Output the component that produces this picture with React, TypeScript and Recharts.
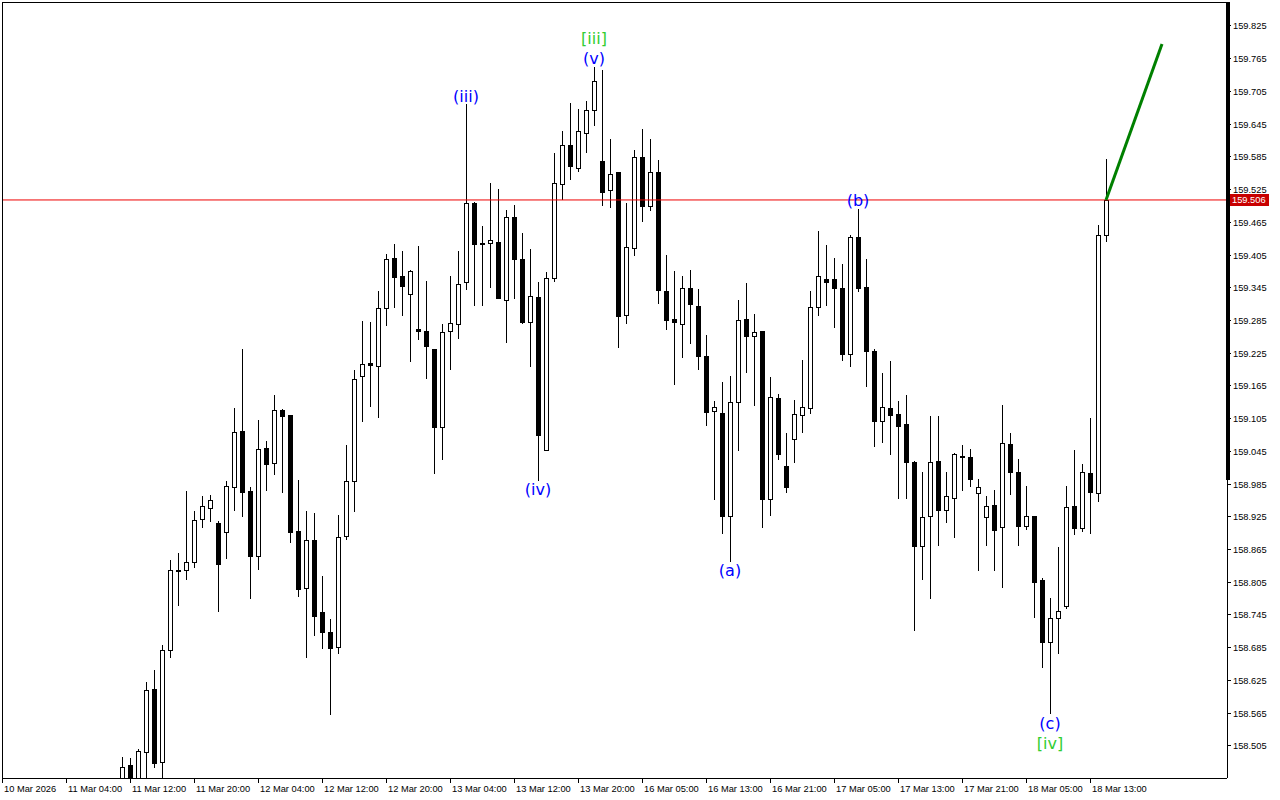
import React from 'react';
import {
  ComposedChart,
  Bar,
  Line,
  XAxis,
  YAxis,
  ReferenceLine,
  ReferenceDot,
} from 'recharts';

// H1 bars; slot 0 = 10 Mar 20:00. Bars before slot 15 sit below the visible scale.
const firstSlot = 15;

const opens = [
  158.430, 158.470, 158.440, 158.494, 158.610, 158.476, 158.681, 158.827, 158.827, 158.842,
  158.921, 158.941, 158.914, 158.897, 158.979, 159.083, 158.973, 158.854, 159.051, 159.023,
  159.120, 159.111, 158.899, 158.794, 158.882, 158.750, 158.713, 158.687, 158.889, 158.990,
  159.184, 159.207, 159.202, 159.307, 159.399, 159.366, 159.334, 159.270, 159.266, 159.232,
  159.089, 159.265, 159.278, 159.355, 159.501, 159.427, 159.427, 159.428, 159.323, 159.475,
  159.398, 159.283, 159.328, 159.048, 159.362, 159.536, 159.606, 159.565, 159.628, 159.671,
  159.578, 159.524, 159.557, 159.295, 159.418, 159.585, 159.494, 159.557, 159.339, 159.288,
  159.279, 159.344, 159.311, 159.219, 159.119, 159.115, 158.926, 159.135, 159.288, 159.256,
  159.266, 158.958, 159.143, 159.018, 159.067, 159.111, 159.125, 159.309, 159.361, 159.361,
  159.344, 159.224, 159.438, 159.347, 159.229, 159.100, 159.124, 159.113, 159.095, 159.026,
  158.871, 158.926, 159.027, 158.938, 158.960, 159.037, 159.035, 158.969, 158.925, 158.947,
  158.907, 159.058, 159.007, 158.908, 158.926, 158.809, 158.695, 158.739, 158.762, 158.945,
  158.904, 159.006, 158.969, 159.441,
];
const highs = [
  158.485, 158.483, 158.500, 158.622, 158.644, 158.690, 158.845, 158.859, 158.973, 158.936,
  158.963, 158.965, 158.918, 158.991, 159.124, 159.233, 158.979, 159.102, 159.064, 159.148,
  159.123, 159.112, 158.992, 158.936, 158.932, 158.817, 158.738, 158.929, 159.057, 159.194,
  159.284, 159.282, 159.339, 159.406, 159.425, 159.413, 159.378, 159.421, 159.358, 159.233,
  159.278, 159.366, 159.413, 159.682, 159.502, 159.458, 159.537, 159.526, 159.487, 159.497,
  159.445, 159.416, 159.356, 159.373, 159.593, 159.633, 159.684, 159.672, 159.688, 159.750,
  159.745, 159.618, 159.557, 159.500, 159.598, 159.636, 159.617, 159.579, 159.405, 159.376,
  159.367, 159.377, 159.343, 159.259, 159.138, 159.172, 159.183, 159.322, 159.354, 159.297,
  159.266, 159.182, 159.150, 159.079, 159.139, 159.212, 159.339, 159.449, 159.423, 159.399,
  159.388, 159.442, 159.490, 159.398, 159.233, 159.188, 159.211, 159.138, 159.149, 159.028,
  159.007, 159.110, 159.110, 159.008, 159.042, 159.057, 159.050, 158.995, 158.963, 158.974,
  159.130, 159.079, 159.031, 158.981, 158.926, 158.813, 158.776, 158.870, 158.981, 159.048,
  159.022, 159.106, 159.460, 159.581,
];
const lows = [
  158.420, 158.425, 158.435, 158.430, 158.465, 158.440, 158.666, 158.762, 158.809, 158.831,
  158.904, 158.915, 158.751, 158.848, 158.936, 158.924, 158.775, 158.828, 158.973, 159.002,
  158.968, 158.877, 158.778, 158.666, 158.706, 158.682, 158.562, 158.673, 158.883, 158.934,
  159.098, 159.127, 159.107, 159.275, 159.307, 159.294, 159.209, 159.249, 159.177, 159.004,
  159.029, 159.194, 159.251, 159.340, 159.311, 159.312, 159.345, 159.325, 159.244, 159.325,
  159.279, 159.200, 158.991, 159.045, 159.356, 159.505, 159.543, 159.558, 159.593, 159.642,
  159.494, 159.492, 159.234, 159.279, 159.403, 159.466, 159.485, 159.315, 159.267, 159.166,
  159.217, 159.241, 159.194, 159.092, 158.955, 158.894, 158.843, 159.046, 159.188, 159.128,
  158.905, 158.927, 159.029, 158.968, 159.023, 159.078, 159.113, 159.294, 159.311, 159.272,
  159.210, 159.200, 159.338, 159.163, 159.053, 159.061, 159.039, 158.958, 158.958, 158.715,
  158.809, 158.775, 158.872, 158.914, 158.887, 158.973, 158.979, 158.825, 158.871, 158.826,
  158.795, 158.965, 158.872, 158.900, 158.740, 158.647, 158.563, 158.674, 158.756, 158.891,
  158.898, 158.893, 158.952, 159.429,
];
const closes = [
  158.467, 158.435, 158.496, 158.607, 158.473, 158.681, 158.827, 158.828, 158.842, 158.919,
  158.944, 158.956, 158.839, 158.981, 159.080, 158.971, 158.853, 159.050, 159.022, 159.120,
  159.109, 158.897, 158.793, 158.882, 158.743, 158.713, 158.685, 158.888, 158.991, 159.178,
  159.205, 159.204, 159.307, 159.398, 159.365, 159.348, 159.376, 159.265, 159.238, 159.089,
  159.263, 159.281, 159.351, 159.501, 159.426, 159.425, 159.432, 159.327, 159.475, 159.397,
  159.283, 159.329, 159.075, 159.362, 159.537, 159.606, 159.568, 159.633, 159.671, 159.725,
  159.521, 159.554, 159.294, 159.420, 159.585, 159.494, 159.557, 159.340, 159.285, 159.282,
  159.344, 159.316, 159.219, 159.118, 159.127, 158.927, 159.135, 159.285, 159.257, 159.263,
  158.958, 159.145, 159.041, 158.979, 159.113, 159.127, 159.310, 159.366, 159.356, 159.345,
  159.224, 159.438, 159.345, 159.229, 159.100, 159.127, 159.111, 159.092, 159.026, 158.871,
  158.924, 159.025, 158.938, 158.963, 159.040, 159.035, 158.995, 158.980, 158.944, 158.900,
  159.061, 159.007, 158.908, 158.926, 158.806, 158.695, 158.739, 158.753, 158.943, 158.904,
  159.007, 158.970, 159.441, 159.506,
];

const timeTicks = [0, 8, 16, 24, 32, 40, 48, 56, 64, 72, 80, 88, 96, 104, 112, 120, 128, 136];
const timeLabels = [
  '10 Mar 2026', '11 Mar 04:00', '11 Mar 12:00', '11 Mar 20:00', '12 Mar 04:00', '12 Mar 12:00',
  '12 Mar 20:00', '13 Mar 04:00', '13 Mar 12:00', '13 Mar 20:00', '16 Mar 05:00', '16 Mar 13:00',
  '16 Mar 21:00', '17 Mar 05:00', '17 Mar 13:00', '17 Mar 21:00', '18 Mar 05:00', '18 Mar 13:00',
];
const priceTicks = [
  158.505, 158.565, 158.625, 158.685, 158.745, 158.805, 158.865, 158.925, 158.985, 159.045,
  159.105, 159.165, 159.225, 159.285, 159.345, 159.405, 159.465, 159.525, 159.585, 159.645,
  159.705, 159.765, 159.825,
];

const bidPrice = 159.506;
// projected leg: from the last close to the target
const forecastSlots = [138, 145];
const forecastPrices = [159.506, 159.792];

// wave labels: slot, anchored at the bar's high or low, pixel offset, colour
const waveText = ['(iii)', '[iii]', '(v)', '(iv)', '(a)', '(b)', '(c)', '[iv]'];
const waveSlot = [58, 74, 74, 67, 91, 107, 131, 131];
const waveAt = ['high', 'high', 'high', 'low', 'low', 'high', 'low', 'low'];
const waveOffset = [-8, -29, -9, 8, 8, -9, 9, 29];
const waveColor = ['#0000ff', '#32cd32', '#0000ff', '#0000ff', '#0000ff', '#0000ff', '#0000ff', '#32cd32'];

const candles = opens.map((o, k) => ({
  i: firstSlot + k,
  o,
  h: highs[k],
  l: lows[k],
  c: closes[k],
}));

const forecast = forecastSlots.map((i, k) => ({ i, f: forecastPrices[k] }));

const FONT = '"Liberation Sans", Arial, sans-serif';

function Candle(props: any) {
  const { x, y, width, height, payload } = props;
  if (!payload || !isFinite(y)) return null;
  const { o, h, l, c } = payload;
  const yTop = height >= 0 ? y : y + height;
  const span = h - l;
  const k = span > 0 ? Math.abs(height) / span : 0;
  const toY = (p: number) => yTop + (h - p) * k;
  const cx = Math.round(x + width / 2);
  const bt = Math.round(toY(Math.max(o, c)));
  const bb = Math.max(Math.round(toY(Math.min(o, c))), bt + 1);
  const up = c >= o;
  return (
    <g shapeRendering="crispEdges">
      <line x1={cx + 0.5} x2={cx + 0.5} y1={Math.round(toY(h))} y2={Math.round(toY(l))} stroke="#000" strokeWidth={1} />
      {up ? (
        <rect x={cx - 1.5} y={bt + 0.5} width={4} height={bb - bt} fill="#fff" stroke="#000" strokeWidth={1} />
      ) : (
        <rect x={cx - 2} y={bt} width={5} height={bb - bt + 1} fill="#000" />
      )}
    </g>
  );
}

const XTick = ({ x, y, payload }: any) => {
  const idx = timeTicks.indexOf(payload.value);
  return (
    <text x={x + 2} y={y + 7} fontSize={9.3} fontFamily={FONT} fill="#000" textAnchor="start">
      {timeLabels[idx]}
    </text>
  );
};

const YTick = ({ x, y, payload }: any) => (
  <text x={x} y={y + 3.5} fontSize={9.3} fontFamily={FONT} fill="#000" textAnchor="start">
    {payload.value.toFixed(3)}
  </text>
);

const BidLabel = ({ viewBox }: any) => {
  const right = viewBox.x + viewBox.width;
  return (
    <g>
      <rect x={right + 2} y={Math.round(viewBox.y) - 6} width={40} height={12} fill="#c80000" />
      <text x={right + 5} y={viewBox.y + 3.5} fontSize={9.3} fontFamily={FONT} fill="#fff">
        {bidPrice.toFixed(3)}
      </text>
    </g>
  );
};

const crisp = { stroke: '#000', shapeRendering: 'crispEdges' } as any;

export default function App() {
  return (
    <div style={{ position: 'relative', width: 1280, height: 800, background: '#fff', fontFamily: FONT }}>
      <style>{'body{margin:0}'}</style>
      <ComposedChart
        width={1280}
        height={800}
        data={candles}
        margin={{ top: 2, right: 0, left: 2, bottom: 0 }}
      >
        <XAxis
          type="number"
          dataKey="i"
          domain={[0, 153.125]}
          ticks={timeTicks}
          interval={0}
          allowDataOverflow
          height={22}
          tickSize={5}
          tick={<XTick />}
          axisLine={crisp}
          tickLine={crisp}
        />
        <YAxis
          orientation="right"
          type="number"
          domain={[158.446, 159.869]}
          ticks={priceTicks}
          interval={0}
          allowDataOverflow
          width={53}
          tickSize={4}
          tick={<YTick />}
          axisLine={crisp}
          tickLine={crisp}
        />
        <ReferenceLine y={bidPrice} stroke="#ee0000" strokeWidth={1} label={<BidLabel />} />
        <Bar
          dataKey={(d: any) => [d.l, d.h]}
          barSize={5}
          shape={<Candle />}
          isAnimationActive={false}
        />
        <Line
          data={forecast}
          dataKey="f"
          stroke="#008000"
          strokeWidth={3}
          dot={false}
          activeDot={false}
          isAnimationActive={false}
        />
        {waveText.map((t, n) => {
          const bar = candles[waveSlot[n] - firstSlot];
          const price = waveAt[n] === 'high' ? bar.h : bar.l;
          return (
            <ReferenceDot
              key={t + n}
              x={waveSlot[n]}
              y={price}
              r={1}
              shape={(p: any) => (
                <text
                  x={p.cx}
                  y={p.cy + waveOffset[n] + 6}
                  textAnchor="middle"
                  fontSize={16}
                  fontFamily='"DejaVu Sans", sans-serif'
                  fill={waveColor[n]}
                >
                  {t}
                </text>
              )}
            />
          );
        })}
      </ComposedChart>
      <div
        style={{
          position: 'absolute',
          left: 2,
          top: 2,
          width: 1225,
          height: 776,
          borderTop: '1px solid #000',
          borderLeft: '1px solid #000',
          pointerEvents: 'none',
        }}
      />
      <div style={{ position: 'absolute', left: 1226, top: 2, width: 4, height: 478, background: '#000' }} />
    </div>
  );
}
